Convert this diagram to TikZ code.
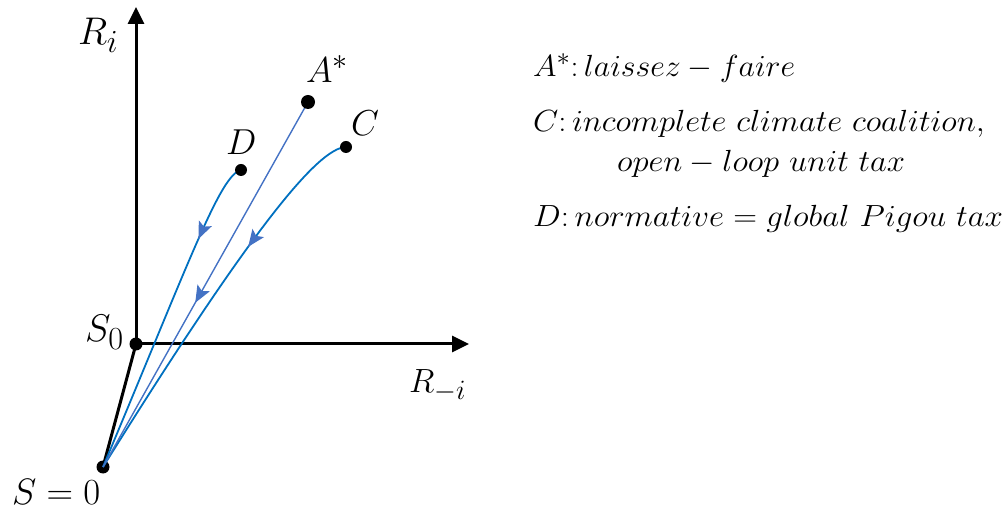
\documentclass[tikz,border=0pt]{standalone}
\usepackage{graphicx}
\usetikzlibrary{arrows.meta,decorations.markings}
\definecolor{curveblue}{HTML}{0070C0}
\definecolor{arrblue}{HTML}{4472C4}
\newcommand\fitw[2]{\resizebox{#1}{1.23\height}{#2}}
\newcommand\scl[2]{\scalebox{#1}{#2}}
\begin{document}
\begin{tikzpicture}[x=1pt,y=-1pt,
  dot/.style={circle,fill=black,inner sep=0pt,minimum size=#1},
  axis/.style={line width=3pt,-{Triangle[length=17pt,width=16pt]}},
  curve/.style={curveblue,line width=1.8pt},
  astar/.style={arrblue,line width=1.4pt},
  midarrow/.style={postaction={decorate,decoration={markings,
      mark=at position #1 with {\arrow{Stealth[length=17pt,width=14pt,inset=3.5pt,color=arrblue]}}}}},
  lab/.style={font=\Huge,inner sep=0pt,anchor=base west},
  legend/.style={font=\Huge,inner sep=0pt,anchor=base west}]
\useasboundingbox (0,0) rectangle (1007,510);

% positions
\coordinate (S0) at (136,344);
\coordinate (S)  at (103,467);
\coordinate (Ap) at (308,102);
\coordinate (Cp) at (346,147);
\coordinate (Dp) at (241,170);
\coordinate (ytop) at (136,7);
\coordinate (xtop) at (469,344);

% axes
\draw[axis] (S0) -- (ytop);
\draw[axis] (S0) -- (xtop);
\draw[line width=3pt] (S) -- (S0);

\node[dot=13pt] (Sdot) at (S) {};

% paths
\draw[curve,midarrow=0.25] (Dp) .. controls (220,175) and (190,260) .. (S);
\draw[curve,midarrow=0.35] (Cp) .. controls (318,148) and (252,228) .. (S);
\draw[astar,midarrow=0.55] (Ap) -- (S);

% dots
\node[dot=13pt] (S0dot) at (S0) {};
\node[dot=14pt] (Adot) at (Ap) {};
\node[dot=12pt] (Cdot) at (Cp) {};
\node[dot=12pt] (Ddot) at (Dp) {};

% labels
\node[lab] (Ri) at (78,45) {\scl{1.55}{$R_i$}};
\node[lab] (Rmi) at (409,393) {\scl{1.35}{$R_{-i}$}};
\node[lab] (S0lab) at (85,342) {\scl{1.55}{$S_0$}};
\node[lab] (Slab) at (12,504) {\resizebox{88pt}{!}{$S=0$}};
\node[lab] (Alab) at (306,83) {\scl{1.45}{$A^{*}$}};
\node[lab] (Clab) at (351,136) {\scl{1.45}{$C$}};
\node[lab] (Dlab) at (226,155) {\scl{1.45}{$D$}};

% legend
\node[legend] (L1) at (533,77) {\fitw{262pt}{$A^{*}{:}\,laissez-faire$}};
\node[legend] (L2) at (533,132) {\fitw{452pt}{$C{:}\,incomplete\ climate\ coalition,$}};
\node[legend] (L3) at (617,172) {\fitw{288pt}{$open-loop\ unit\ tax$}};
\node[legend] (L4) at (533,227) {\fitw{470pt}{$D{:}\,normative=global\ Pigou\ tax$}};
\end{tikzpicture}
\end{document}
